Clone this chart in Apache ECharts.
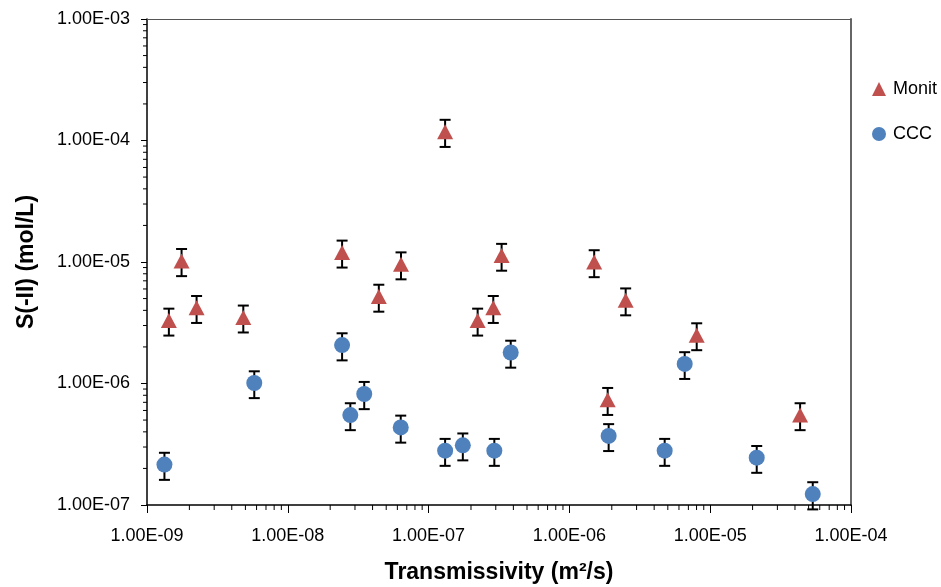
<!DOCTYPE html>
<html>
<head>
<meta charset="utf-8">
<script src="https://cdn.jsdelivr.net/npm/echarts@6/dist/echarts.min.js"></script>
<style>
html,body{margin:0;padding:0;background:#fff;}
#chartmain{width:941px;height:587px;}
</style>
</head>
<body>
<div id="chartmain"></div>
<script>
// Monit (triangles)
var monitT=[1.43e-9,1.76e-9,2.25e-9,4.83e-9,2.43e-8,4.43e-8,6.37e-8,1.31e-7,2.23e-7,2.88e-7,3.30e-7,1.50e-6,1.87e-6,2.51e-6,8.02e-6,4.35e-5];
var monitS=[3.3e-6,1.02e-5,4.2e-6,3.5e-6,1.2e-5,5.2e-6,9.6e-6,1.18e-4,3.3e-6,4.2e-6,1.13e-5,1.0e-5,7.35e-7,4.85e-6,2.5e-6,5.5e-7];
var monitLo=[2.48e-6,7.65e-6,3.15e-6,2.63e-6,9.0e-6,3.9e-6,7.2e-6,8.85e-5,2.48e-6,3.15e-6,8.48e-6,7.5e-6,5.51e-7,3.64e-6,1.88e-6,4.13e-7];
var monitHi=[4.13e-6,1.28e-5,5.25e-6,4.38e-6,1.5e-5,6.5e-6,1.2e-5,1.48e-4,4.13e-6,5.25e-6,1.41e-5,1.25e-5,9.19e-7,6.06e-6,3.13e-6,6.88e-7];
// CCC (circles)
var cccT=[1.33e-9,5.78e-9,2.43e-8,2.78e-8,3.49e-8,6.34e-8,1.31e-7,1.75e-7,2.93e-7,3.83e-7,1.90e-6,4.75e-6,6.59e-6,2.14e-5,5.35e-5];
var cccS=[2.15e-7,1.01e-6,2.07e-6,5.5e-7,8.2e-7,4.35e-7,2.8e-7,3.1e-7,2.8e-7,1.8e-6,3.7e-7,2.8e-7,1.45e-6,2.45e-7,1.23e-7];
var cccLo=[1.61e-7,7.58e-7,1.55e-6,4.13e-7,6.15e-7,3.26e-7,2.1e-7,2.33e-7,2.1e-7,1.35e-6,2.78e-7,2.1e-7,1.09e-6,1.84e-7,9.2e-8];
var cccHi=[2.69e-7,1.26e-6,2.59e-6,6.88e-7,1.03e-6,5.44e-7,3.5e-7,3.88e-7,3.5e-7,2.25e-6,4.63e-7,3.5e-7,1.81e-6,3.06e-7,1.54e-7];

var xTickLabels=['1.00E-09','1.00E-08','1.00E-07','1.00E-06','1.00E-05','1.00E-04'];
var yTickLabels=['1.00E-07','1.00E-06','1.00E-05','1.00E-04','1.00E-03'];

var font='"Liberation Sans", Arial, sans-serif';

function zip(a,b) {
	var out=[];
	for(var i=0;i<a.length;i++) out.push([a[i],b[i]]);
	return out;
}
function errData(t,lo,hi) {
	var out=[];
	for(var i=0;i<t.length;i++) out.push([t[i],lo[i],hi[i]]);
	return out;
}
function errBar(params,api) {
	var x=api.value(0);
	var p1=api.coord([x,api.value(1)]);
	var p2=api.coord([x,api.value(2)]);
	var w=5.5;
	var st={stroke:'#000',lineWidth:2};
	return {type:'group',children:[
		{type:'line',shape:{x1:p1[0],y1:p1[1],x2:p2[0],y2:p2[1]},style:st},
		{type:'line',shape:{x1:p1[0]-w,y1:p1[1],x2:p1[0]+w,y2:p1[1]},style:st},
		{type:'line',shape:{x1:p2[0]-w,y1:p2[1],x2:p2[0]+w,y2:p2[1]},style:st}
	]};
}

// minor ticks at 2..9 of every decade
var xMinor=[],yMinor=[];
for(var e=-9;e<-4;e++) for(var k=2;k<10;k++) xMinor.push([k*Math.pow(10,e),1e-7]);
for(var e2=-7;e2<-3;e2++) for(var k2=2;k2<10;k2++) yMinor.push([1e-9,k2*Math.pow(10,e2)]);

function minorX(params,api) {
	var p=api.coord([api.value(0),1e-7]);
	return {type:'line',shape:{x1:p[0],y1:p[1],x2:p[0],y2:p[1]+5},style:{stroke:'#000',lineWidth:1}};
}
function minorY(params,api) {
	var p=api.coord([1e-9,api.value(1)]);
	return {type:'line',shape:{x1:p[0]-4,y1:p[1],x2:p[0],y2:p[1]},style:{stroke:'#000',lineWidth:1}};
}

var myChart=echarts.init(document.getElementById('chartmain'));
var option={
	animation:false,
	backgroundColor:'#fff',
	textStyle:{fontFamily:font},
	grid:{left:147,right:90,top:19,bottom:82,containLabel:false,outerBoundsMode:'none'},
	legend:{
		orient:'vertical',left:867,top:75,
		itemWidth:14,itemHeight:14,itemGap:27,
		textStyle:{fontSize:18,color:'#000',fontFamily:font,padding:[0,0,0,2]},
		data:[{name:'Monit',icon:'triangle'},{name:'CCC',icon:'circle'}]
	},
	xAxis:[{
		type:'log',logBase:10,min:1e-9,max:1e-4,
		name:'Transmissivity (m\u00b2/s)',nameLocation:'middle',nameGap:56,
		nameTextStyle:{fontSize:23,fontWeight:'bold',color:'#000',fontFamily:font},
		axisLine:{show:true,onZero:false,lineStyle:{color:'#000',width:1.5}},
		axisTick:{show:true,length:8,lineStyle:{color:'#000'}},
		axisLabel:{fontSize:18,color:'#000',margin:22,
			formatter:function(v){return xTickLabels[Math.round(Math.log10(v))+9];}},
		splitLine:{show:false}
	},{
		type:'log',position:'top',min:1e-9,max:1e-4,
		axisLine:{show:true,onZero:false,lineStyle:{color:'#555',width:1.2}},
		axisTick:{show:false},axisLabel:{show:false},splitLine:{show:false}
	}],
	yAxis:[{
		type:'log',logBase:10,min:1e-7,max:1e-3,
		name:'S(-II) (mol/L)',nameLocation:'middle',nameGap:109,
		nameTextStyle:{fontSize:23,fontWeight:'bold',color:'#000',fontFamily:font},
		axisLine:{show:true,onZero:false,lineStyle:{color:'#000',width:1.5}},
		axisTick:{show:true,length:6,lineStyle:{color:'#000'}},
		axisLabel:{fontSize:18,color:'#000',margin:17,
			formatter:function(v){return yTickLabels[Math.round(Math.log10(v))+7];}},
		splitLine:{show:false}
	},{
		type:'log',position:'right',min:1e-7,max:1e-3,
		axisLine:{show:true,onZero:false,lineStyle:{color:'#666',width:2}},
		axisTick:{show:false},axisLabel:{show:false},splitLine:{show:false}
	}],
	series:[
		{type:'custom',renderItem:minorX,data:xMinor,clip:false,silent:true,z:1},
		{type:'custom',renderItem:minorY,data:yMinor,clip:false,silent:true,z:1},
		{type:'custom',renderItem:errBar,data:errData(monitT,monitLo,monitHi),encode:{x:0,y:[1,2]},clip:false,silent:true,z:2},
		{type:'custom',renderItem:errBar,data:errData(cccT,cccLo,cccHi),encode:{x:0,y:[1,2]},clip:false,silent:true,z:2},
		{name:'Monit',type:'scatter',symbol:'triangle',symbolSize:[16,15],
			itemStyle:{color:'#C0504D',opacity:1},data:zip(monitT,monitS),z:5},
		{name:'CCC',type:'scatter',symbol:'circle',symbolSize:16,
			itemStyle:{color:'#4F81BD',opacity:1},data:zip(cccT,cccS),z:5}
	]
};
myChart.setOption(option);
</script>
</body>
</html>
